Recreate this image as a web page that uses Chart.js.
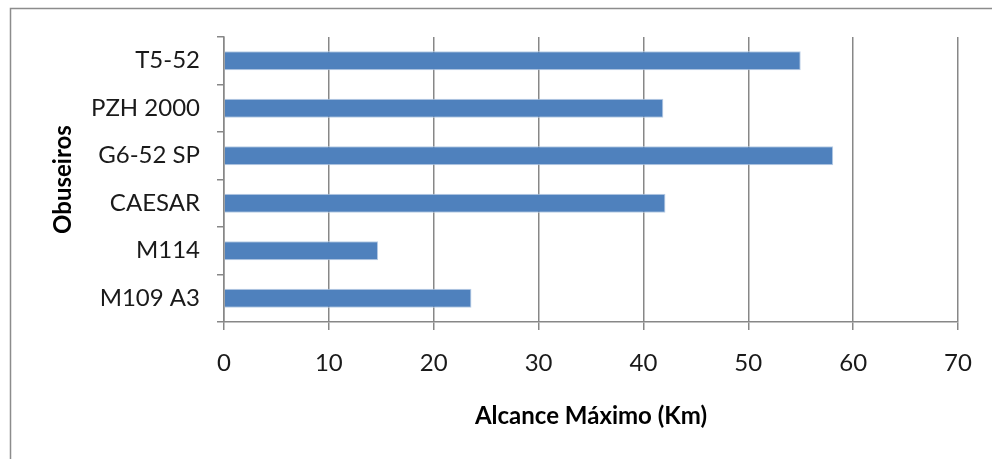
<!DOCTYPE html>
<html>
<head>
<meta charset="utf-8">
<script src="https://cdn.jsdelivr.net/npm/chart.js@4"></script>
<style>
  html, body { margin: 0; padding: 0; background: #fff; }
  #wrap { width: 992px; height: 459px; }
</style>
</head>
<body>
<div id="wrap"><canvas id="chartCanvas" width="992" height="459"></canvas></div>
<script>
const categories = ['T5-52', 'PZH 2000', 'G6-52 SP', 'CAESAR', 'M114', 'M109 A3'];
const alcance = [55.0, 41.9, 58.1, 42.1, 14.7, 23.6];
const xTicks = [0, 10, 20, 30, 40, 50, 60, 70];

const FONT = 'Lato, "Open Sans", sans-serif';
const GRID = '#878787';

// outer frame (only left + top edges visible in the crop)
const framePlugin = {
  id: 'frame',
  beforeDraw(chart) {
    const ctx = chart.ctx;
    ctx.save();
    ctx.strokeStyle = '#8c8c8c';
    ctx.lineWidth = 1.5;
    ctx.beginPath();
    ctx.moveTo(10.5, chart.height);
    ctx.lineTo(10.5, 8.5);
    ctx.lineTo(chart.width, 8.5);
    ctx.stroke();
    ctx.restore();
  }
};

const ctx = document.getElementById('chartCanvas').getContext('2d');
new Chart(ctx, {
  type: 'bar',
  data: {
    labels: categories,
    datasets: [{
      label: 'Alcance Máximo (Km)',
      data: alcance,
      backgroundColor: '#4f81bd',
      borderColor: '#b9cde5',
      borderWidth: 1,
      barPercentage: 0.4,
      categoryPercentage: 1
    }]
  },
  options: {
    indexAxis: 'y',
    responsive: false,
    animation: false,
    layout: { padding: { top: 37, right: 34, left: 0, bottom: 0 } },
    plugins: {
      legend: { display: false },
      tooltip: { enabled: false }
    },
    scales: {
      x: {
        min: 0,
        max: 70,
        afterBuildTicks(scale) {
          scale.ticks = xTicks.map(v => ({ value: v }));
        },
        afterFit(scale) { scale.height = 137; },
        grid: { color: GRID, lineWidth: 1.5, tickLength: 8 },
        border: { color: GRID, width: 1.5 },
        ticks: { color: '#1a1a1a', padding: 19, font: { family: FONT, size: 24 } },
        title: {
          display: true,
          text: 'Alcance Máximo (Km)',
          color: '#000',
          font: { family: FONT, size: 24, weight: 'bold' },
          padding: { top: 0, bottom: 28 }
        }
      },
      y: {
        afterFit(scale) { scale.width = 224; },
        grid: { display: true, drawOnChartArea: false, offset: true, color: GRID, lineWidth: 1.5, tickLength: 7 },
        border: { color: GRID, width: 1.5 },
        ticks: { color: '#1a1a1a', padding: 17, font: { family: FONT, size: 24 } },
        title: {
          display: true,
          text: 'Obuseiros',
          color: '#000',
          font: { family: FONT, size: 24, weight: 'bold' },
          padding: { top: 49, bottom: 0 }
        }
      }
    }
  },
  plugins: [framePlugin]
});
</script>
</body>
</html>
